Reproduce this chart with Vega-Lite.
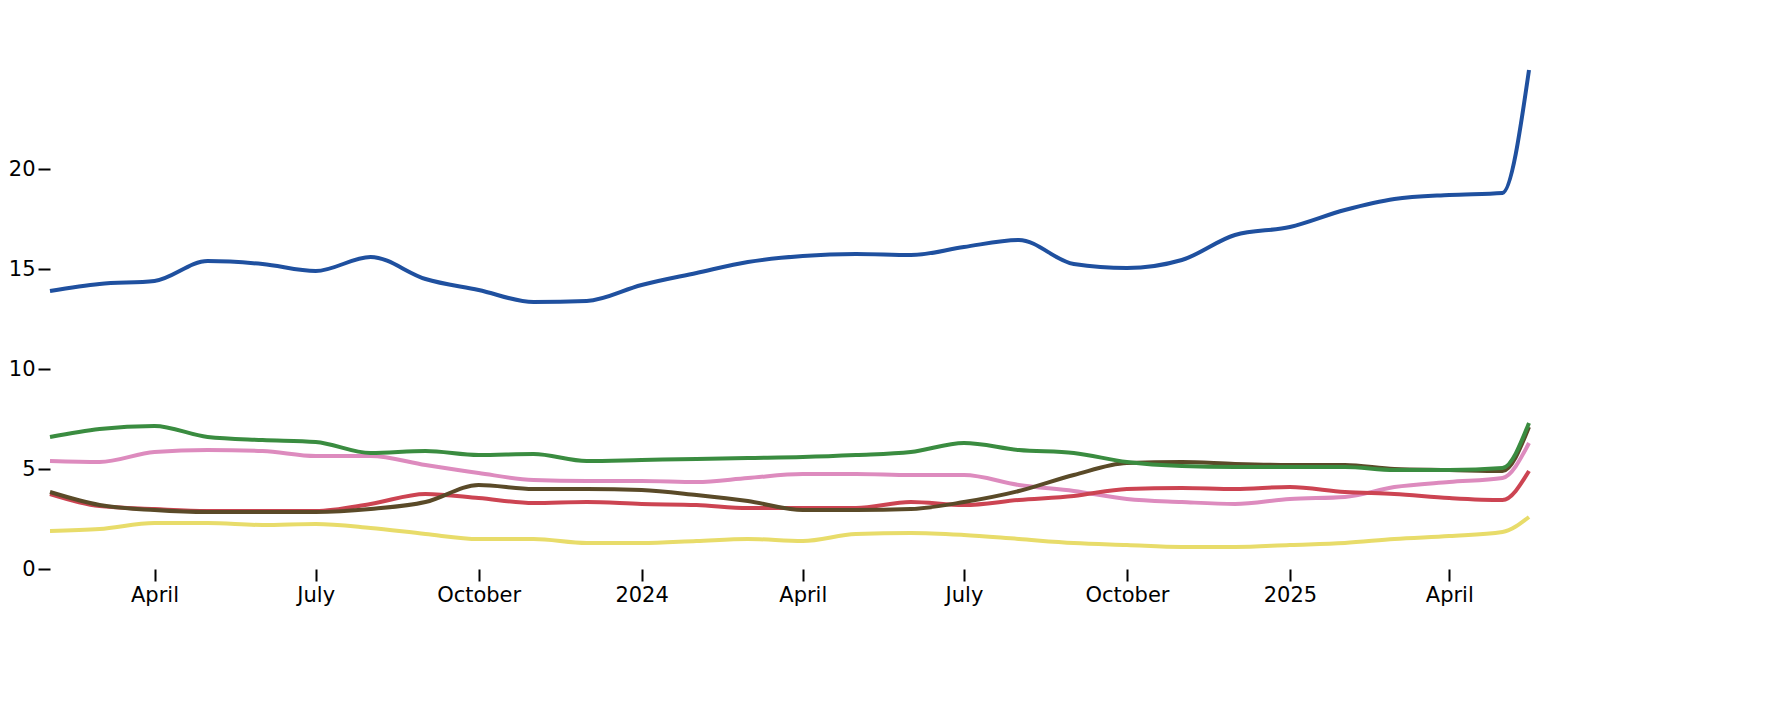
{
  "$schema": "https://vega.github.io/schema/vega-lite/v6.json",
  "width": 1479,
  "height": 560,
  "autosize": {"type": "none"},
  "padding": {"left": 50, "top": 9, "right": 255, "bottom": 154},
  "background": "white",
  "config": {"view": {"stroke": null}, "font": "DejaVu Sans"},
  "data": {
    "values": [
      {"date": "2023-02-01T00:00:00", "blue": 13.9, "green": 6.6, "olive": 3.85, "red": 3.75, "pink": 5.4, "yellow": 1.9},
      {"date": "2023-03-01T00:00:00", "blue": 14.25, "green": 7.0, "olive": 3.2, "red": 3.15, "pink": 5.35, "yellow": 2.0},
      {"date": "2023-04-01T00:00:00", "blue": 14.4, "green": 7.15, "olive": 2.95, "red": 3.0, "pink": 5.85, "yellow": 2.3},
      {"date": "2023-05-01T00:00:00", "blue": 15.4, "green": 6.6, "olive": 2.85, "red": 2.9, "pink": 5.95, "yellow": 2.3},
      {"date": "2023-06-01T00:00:00", "blue": 15.25, "green": 6.45, "olive": 2.85, "red": 2.9, "pink": 5.9, "yellow": 2.2},
      {"date": "2023-07-01T00:00:00", "blue": 14.9, "green": 6.35, "olive": 2.85, "red": 2.9, "pink": 5.65, "yellow": 2.25},
      {"date": "2023-08-01T00:00:00", "blue": 15.6, "green": 5.8, "olive": 3.0, "red": 3.25, "pink": 5.65, "yellow": 2.05},
      {"date": "2023-09-01T00:00:00", "blue": 14.5, "green": 5.9, "olive": 3.35, "red": 3.75, "pink": 5.2, "yellow": 1.75},
      {"date": "2023-10-01T00:00:00", "blue": 13.95, "green": 5.7, "olive": 4.2, "red": 3.55, "pink": 4.8, "yellow": 1.5},
      {"date": "2023-11-01T00:00:00", "blue": 13.35, "green": 5.75, "olive": 4.0, "red": 3.3, "pink": 4.45, "yellow": 1.5},
      {"date": "2023-12-01T00:00:00", "blue": 13.4, "green": 5.4, "olive": 4.0, "red": 3.35, "pink": 4.4, "yellow": 1.3},
      {"date": "2024-01-01T00:00:00", "blue": 14.2, "green": 5.45, "olive": 3.95, "red": 3.25, "pink": 4.4, "yellow": 1.3},
      {"date": "2024-02-01T00:00:00", "blue": 14.8, "green": 5.5, "olive": 3.7, "red": 3.2, "pink": 4.35, "yellow": 1.4},
      {"date": "2024-03-01T00:00:00", "blue": 15.35, "green": 5.55, "olive": 3.4, "red": 3.05, "pink": 4.55, "yellow": 1.5},
      {"date": "2024-04-01T00:00:00", "blue": 15.65, "green": 5.6, "olive": 2.95, "red": 3.05, "pink": 4.75, "yellow": 1.4},
      {"date": "2024-05-01T00:00:00", "blue": 15.75, "green": 5.7, "olive": 2.95, "red": 3.05, "pink": 4.75, "yellow": 1.75},
      {"date": "2024-06-01T00:00:00", "blue": 15.7, "green": 5.85, "olive": 3.0, "red": 3.35, "pink": 4.7, "yellow": 1.8},
      {"date": "2024-07-01T00:00:00", "blue": 16.1, "green": 6.3, "olive": 3.35, "red": 3.2, "pink": 4.7, "yellow": 1.7},
      {"date": "2024-08-01T00:00:00", "blue": 16.45, "green": 5.95, "olive": 3.9, "red": 3.45, "pink": 4.2, "yellow": 1.5},
      {"date": "2024-09-01T00:00:00", "blue": 15.25, "green": 5.8, "olive": 4.7, "red": 3.65, "pink": 3.9, "yellow": 1.3},
      {"date": "2024-10-01T00:00:00", "blue": 15.05, "green": 5.35, "olive": 5.3, "red": 4.0, "pink": 3.5, "yellow": 1.2},
      {"date": "2024-11-01T00:00:00", "blue": 15.45, "green": 5.15, "olive": 5.35, "red": 4.05, "pink": 3.35, "yellow": 1.1},
      {"date": "2024-12-01T00:00:00", "blue": 16.7, "green": 5.1, "olive": 5.25, "red": 4.0, "pink": 3.25, "yellow": 1.1},
      {"date": "2025-01-01T00:00:00", "blue": 17.1, "green": 5.1, "olive": 5.2, "red": 4.1, "pink": 3.5, "yellow": 1.2},
      {"date": "2025-02-01T00:00:00", "blue": 17.95, "green": 5.1, "olive": 5.2, "red": 3.85, "pink": 3.6, "yellow": 1.3},
      {"date": "2025-03-01T00:00:00", "blue": 18.5, "green": 4.95, "olive": 5.0, "red": 3.75, "pink": 4.1, "yellow": 1.5},
      {"date": "2025-04-01T00:00:00", "blue": 18.7, "green": 4.95, "olive": 4.95, "red": 3.55, "pink": 4.35, "yellow": 1.65},
      {"date": "2025-05-01T00:00:00", "blue": 18.8, "green": 5.05, "olive": 4.9, "red": 3.45, "pink": 4.55, "yellow": 1.85},
      {"date": "2025-05-16T00:00:00", "blue": 24.95, "green": 7.3, "olive": 7.1, "red": 4.9, "pink": 6.3, "yellow": 2.6}
    ]
  },
  "transform": [
    {"fold": ["yellow", "pink", "red", "olive", "green", "blue"], "as": ["series", "value"]}
  ],
  "mark": {"type": "line", "interpolate": "monotone", "strokeWidth": 4, "strokeCap": "butt"},
  "encoding": {
    "x": {
      "field": "date",
      "type": "temporal",
      "scale": {"domain": [{"year": 2023, "month": 2, "date": 1}, {"year": 2025, "month": 5, "date": 16}]},
      "axis": {
        "title": null,
        "domain": false,
        "grid": false,
        "values": [
          {"year": 2023, "month": 4, "date": 1},
          {"year": 2023, "month": 7, "date": 1},
          {"year": 2023, "month": 10, "date": 1},
          {"year": 2024, "month": 1, "date": 1},
          {"year": 2024, "month": 4, "date": 1},
          {"year": 2024, "month": 7, "date": 1},
          {"year": 2024, "month": 10, "date": 1},
          {"year": 2025, "month": 1, "date": 1},
          {"year": 2025, "month": 4, "date": 1}
        ],
        "labelExpr": "month(datum.value) == 0 ? timeFormat(datum.value, '%Y') : timeFormat(datum.value, '%B')",
        "tickSize": 12,
        "tickWidth": 2,
        "tickColor": "black",
        "labelFontSize": 21,
        "labelColor": "black",
        "labelPadding": 3,
        "labelFlush": false,
        "labelOverlap": false
      }
    },
    "y": {
      "field": "value",
      "type": "quantitative",
      "scale": {"domain": [0, 28], "nice": false},
      "axis": {
        "title": null,
        "domain": false,
        "grid": false,
        "values": [0, 5, 10, 15, 20],
        "tickSize": 12,
        "tickWidth": 2,
        "tickColor": "black",
        "labelFontSize": 21,
        "labelColor": "black",
        "labelPadding": 3
      }
    },
    "color": {
      "field": "series",
      "type": "nominal",
      "scale": {
        "domain": ["yellow", "pink", "red", "olive", "green", "blue"],
        "range": ["#e8dc6a", "#dd8bbe", "#cc4452", "#5a4a28", "#3a8c40", "#1f509f"]
      },
      "legend": null
    }
  }
}
